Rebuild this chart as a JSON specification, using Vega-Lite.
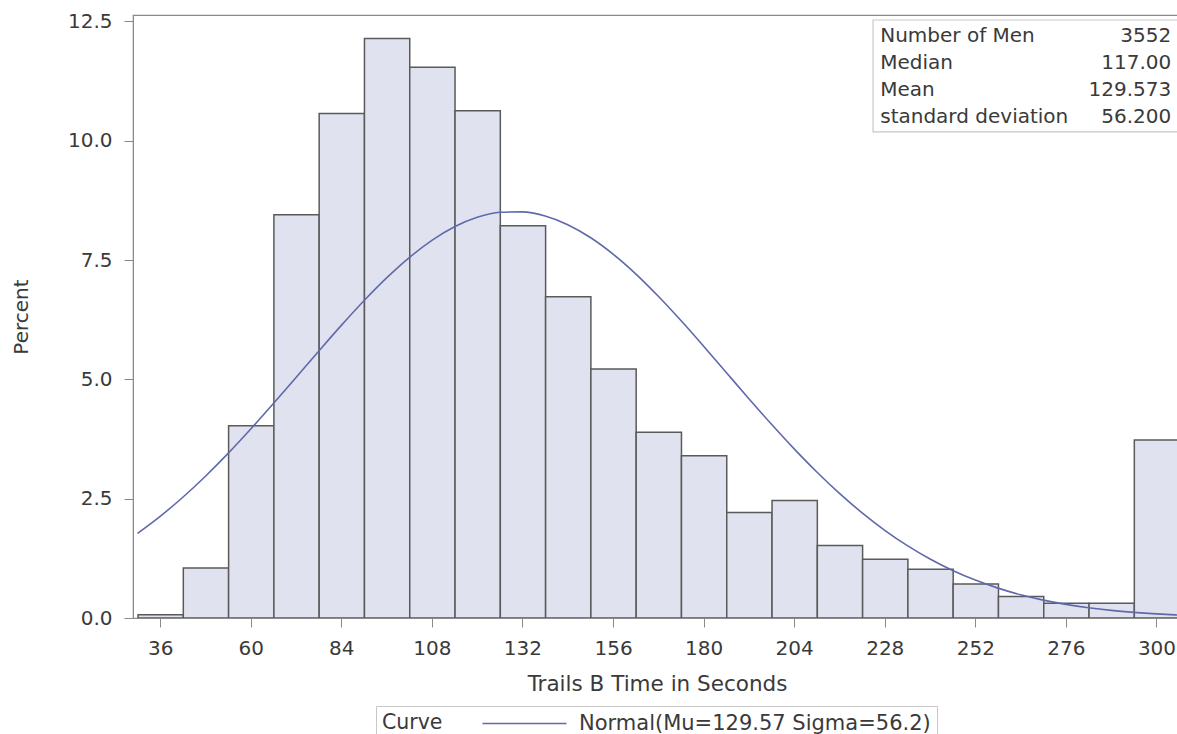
{
  "$schema": "https://vega.github.io/schema/vega-lite/v6.json",
  "width": 1048,
  "height": 603,
  "autosize": "none",
  "padding": {"left": 133, "top": 15, "right": 0, "bottom": 116},
  "background": "white",
  "config": {
    "font": "DejaVu Sans",
    "view": {"stroke": "#8a8a8a", "strokeWidth": 1.2},
    "axis": {
      "labelFont": "DejaVu Sans",
      "titleFont": "DejaVu Sans",
      "labelColor": "#3a3a3a",
      "titleColor": "#3a3a3a",
      "domainColor": "#8a8a8a",
      "tickColor": "#8a8a8a",
      "labelFontSize": 20,
      "titleFontSize": 21.5,
      "titleFontWeight": "normal",
      "grid": false
    }
  },
  "datasets": {
    "bins": [
      {"start": 30, "end": 42, "percent": 0.07},
      {"start": 42, "end": 54, "percent": 1.05},
      {"start": 54, "end": 66, "percent": 4.03},
      {"start": 66, "end": 78, "percent": 8.45},
      {"start": 78, "end": 90, "percent": 10.57},
      {"start": 90, "end": 102, "percent": 12.14},
      {"start": 102, "end": 114, "percent": 11.54},
      {"start": 114, "end": 126, "percent": 10.63},
      {"start": 126, "end": 138, "percent": 8.22},
      {"start": 138, "end": 150, "percent": 6.73},
      {"start": 150, "end": 162, "percent": 5.22},
      {"start": 162, "end": 174, "percent": 3.89},
      {"start": 174, "end": 186, "percent": 3.4},
      {"start": 186, "end": 198, "percent": 2.21},
      {"start": 198, "end": 210, "percent": 2.46},
      {"start": 210, "end": 222, "percent": 1.52},
      {"start": 222, "end": 234, "percent": 1.23},
      {"start": 234, "end": 246, "percent": 1.02},
      {"start": 246, "end": 258, "percent": 0.71},
      {"start": 258, "end": 270, "percent": 0.45},
      {"start": 270, "end": 282, "percent": 0.31},
      {"start": 282, "end": 294, "percent": 0.31},
      {"start": 294, "end": 306, "percent": 3.73}
    ],
    "curve": [
      {"t": 30, "p": 1.773}, {"t": 36, "p": 2.13}, {"t": 42, "p": 2.53}, {"t": 48, "p": 2.971},
      {"t": 54, "p": 3.449}, {"t": 60, "p": 3.959}, {"t": 66, "p": 4.493}, {"t": 72, "p": 5.041},
      {"t": 78, "p": 5.591}, {"t": 84, "p": 6.132}, {"t": 90, "p": 6.648}, {"t": 96, "p": 7.126},
      {"t": 102, "p": 7.552}, {"t": 108, "p": 7.913}, {"t": 114, "p": 8.197}, {"t": 120, "p": 8.395},
      {"t": 126, "p": 8.501}, {"t": 132, "p": 8.51}, {"t": 138, "p": 8.423}, {"t": 144, "p": 8.242},
      {"t": 150, "p": 7.973}, {"t": 156, "p": 7.626}, {"t": 162, "p": 7.212}, {"t": 168, "p": 6.742},
      {"t": 174, "p": 6.232}, {"t": 180, "p": 5.695}, {"t": 186, "p": 5.145}, {"t": 192, "p": 4.596},
      {"t": 198, "p": 4.059}, {"t": 204, "p": 3.544}, {"t": 210, "p": 3.059}, {"t": 216, "p": 2.611},
      {"t": 222, "p": 2.203}, {"t": 228, "p": 1.838}, {"t": 234, "p": 1.516}, {"t": 240, "p": 1.236},
      {"t": 246, "p": 0.996}, {"t": 252, "p": 0.794}, {"t": 258, "p": 0.626}, {"t": 264, "p": 0.487},
      {"t": 270, "p": 0.375}, {"t": 276, "p": 0.286}, {"t": 282, "p": 0.215}, {"t": 288, "p": 0.16},
      {"t": 294, "p": 0.118}, {"t": 300, "p": 0.086}, {"t": 306, "p": 0.062}
    ],
    "stats": [{"label": "Number of Men"}]
  },
  "layer": [
    {
      "data": {"name": "bins"},
      "mark": {"type": "rect", "fill": "#e0e3ef", "stroke": "#5a5a5a", "strokeWidth": 1.5, "clip": true},
      "encoding": {
        "x": {
          "field": "start", "type": "quantitative", "bin": "binned",
          "scale": {"domain": [28.8, 306.5], "nice": false, "zero": false},
          "axis": {
            "values": [36, 60, 84, 108, 132, 156, 180, 204, 228, 252, 276, 300],
            "title": "Trails B Time in Seconds",
            "tickSize": 9, "labelPadding": 11, "titlePadding": 15,
            "labelFlush": false, "labelOverlap": false
          }
        },
        "x2": {"field": "end"},
        "y": {
          "field": "percent", "type": "quantitative",
          "scale": {"domain": [0, 12.635], "nice": false},
          "axis": {
            "values": [0, 2.5, 5, 7.5, 10, 12.5], "format": ".1f",
            "title": "Percent", "titleFontSize": 20, "tickSize": 9, "labelPadding": 12, "titlePadding": 36
          }
        },
        "y2": {"datum": 0}
      }
    },
    {
      "data": {"name": "curve"},
      "mark": {"type": "line", "strokeWidth": 1.6, "interpolate": "monotone", "clip": true},
      "encoding": {
        "x": {"field": "t", "type": "quantitative"},
        "y": {"field": "p", "type": "quantitative"},
        "color": {
          "datum": "Normal(Mu=129.57 Sigma=56.2)",
          "type": "nominal",
          "scale": {"range": ["#5f69ab"]},
          "legend": {
            "orient": "none", "legendX": 243, "legendY": 691,
            "direction": "horizontal", "title": "Curve", "titleOrient": "left",
            "titleFontSize": 20.5, "titleFontWeight": "normal", "titleColor": "#3a3a3a",
            "titleFont": "DejaVu Sans", "titlePadding": 70, "titleBaseline": "middle",
            "symbolType": "M-4,0H4", "symbolSize": 441, "symbolStrokeWidth": 1.5,
            "labelFontSize": 21, "labelFont": "DejaVu Sans", "labelColor": "#3a3a3a",
            "labelLimit": 600,
            "labelOffset": 43, "strokeColor": "#c8c8c8", "fillColor": "white", "padding": 6
          }
        }
      }
    },
    {
      "data": {"name": "stats"},
      "mark": {"type": "rect", "fill": "white", "stroke": "#c8c8c8", "strokeWidth": 1.2, "clip": true},
      "encoding": {
        "x": {"datum": 224.9},
        "x2": {"datum": 310},
        "y": {"datum": 12.53},
        "y2": {"datum": 10.184}
      }
    },
    {
      "data": {"name": "stats"},
      "mark": {
        "type": "text", "align": "left", "baseline": "middle", "fontSize": 20, "lineHeight": 27,
        "color": "#3a3a3a", "font": "DejaVu Sans",
        "text": ["Number of Men", "Median", "Mean", "standard deviation"]
      },
      "encoding": {"x": {"datum": 226.8}, "y": {"datum": 12.195}}
    },
    {
      "data": {"name": "stats"},
      "mark": {
        "type": "text", "align": "right", "baseline": "middle", "fontSize": 20, "lineHeight": 27,
        "color": "#3a3a3a", "font": "DejaVu Sans",
        "text": ["3552", "117.00", "129.573", "56.200"]
      },
      "encoding": {"x": {"datum": 303.9}, "y": {"datum": 12.195}}
    }
  ]
}
